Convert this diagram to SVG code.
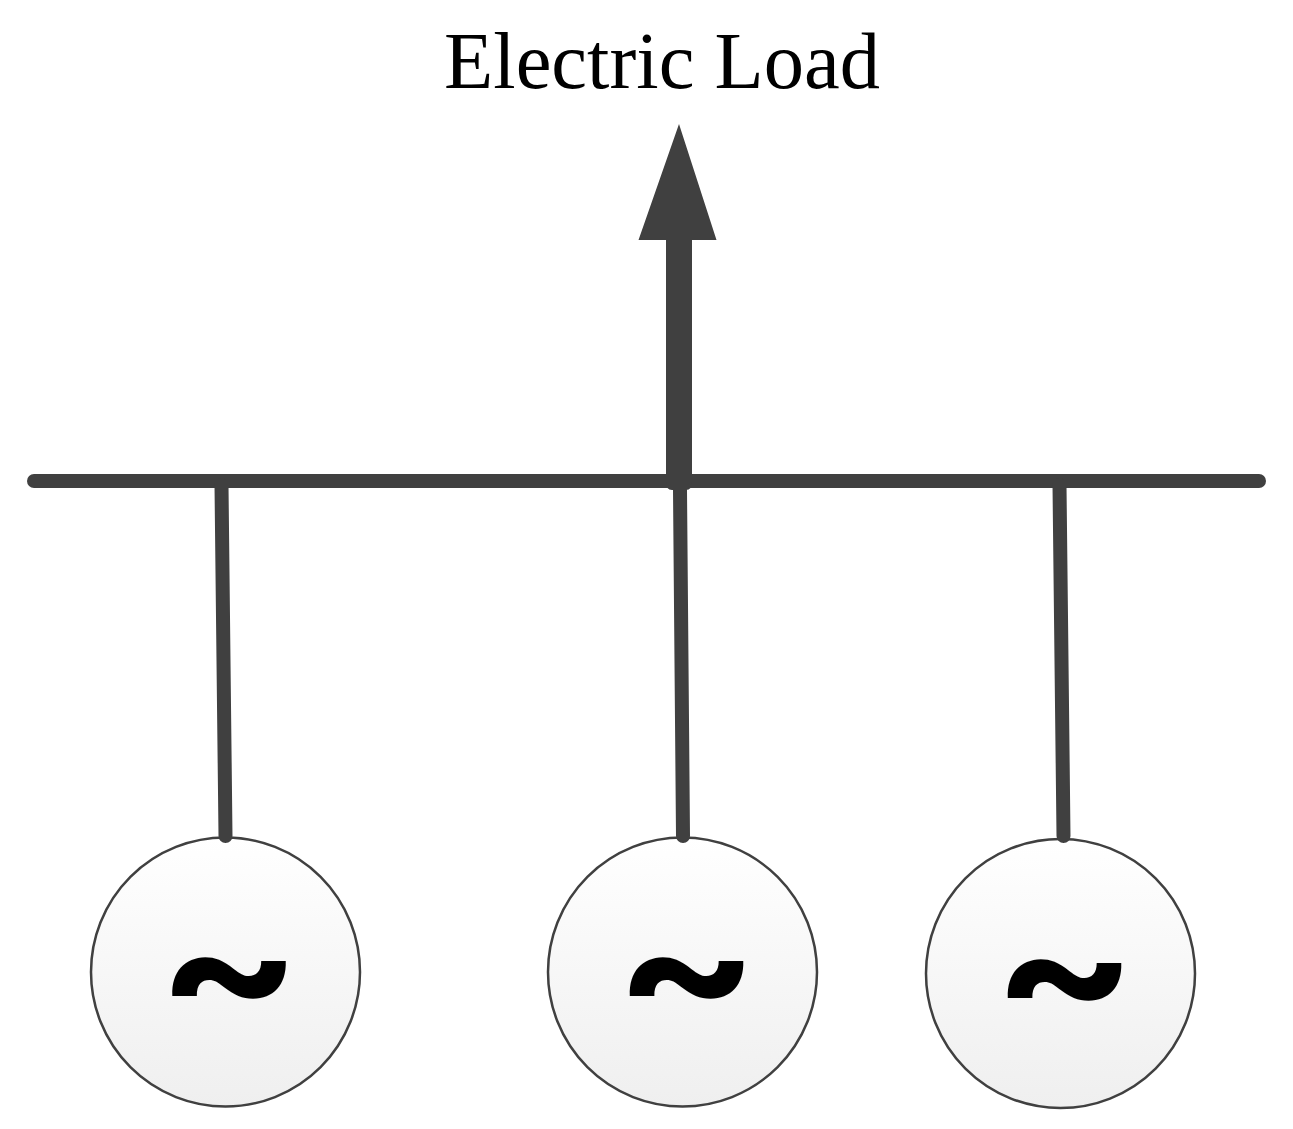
<svg xmlns="http://www.w3.org/2000/svg" width="1293" height="1129" viewBox="0 0 1293 1129">
<style>
.gen{fill:url(#g);stroke:#404040;stroke-width:2.500}
.sym{font-family:Inter,"DejaVu Sans",sans-serif;font-weight:bold;font-size:168px;fill:#000;text-anchor:middle}
.lbl{font-family:"Liberation Serif",serif;font-size:80.500px;fill:#000;text-anchor:middle}
.wire{stroke:#404040;stroke-width:14;stroke-linecap:round;fill:none}
</style>
<defs><linearGradient id="g" x1="0" y1="0" x2="0" y2="1"><stop offset="0" stop-color="#fff"/><stop offset="1" stop-color="#efefef"/></linearGradient></defs>
<rect width="1293" height="1129" fill="#fff"/>
<g id="label"><text class="lbl" x="662" y="88">Electric Load</text></g>
<g id="gen1"><circle class="gen" cx="225.5" cy="972" r="134.5"/><text class="sym" transform="translate(229 1032) scale(1.286 1.1)">~</text></g>
<g id="gen2"><circle class="gen" cx="682.5" cy="972" r="134.5"/><text class="sym" transform="translate(686.500 1032) scale(1.286 1.1)">~</text></g>
<g id="gen3"><circle class="gen" cx="1060.5" cy="973.5" r="134.5"/><text class="sym" transform="translate(1064.500 1034) scale(1.286 1.1)">~</text></g>
<g id="connectors">
<path class="wire" d="M34 481H1259"/>
<path class="wire" d="M221.500 485L225.500 836"/>
<path class="wire" d="M680 490L683 836"/>
<path class="wire" d="M1059.500 485L1063.500 836"/>
<path d="M679 124L716.500 240H692V482Q692 490 686 490H672Q666 490 666 482V240H638.500Z" fill="#404040"/>
</g>
</svg>
